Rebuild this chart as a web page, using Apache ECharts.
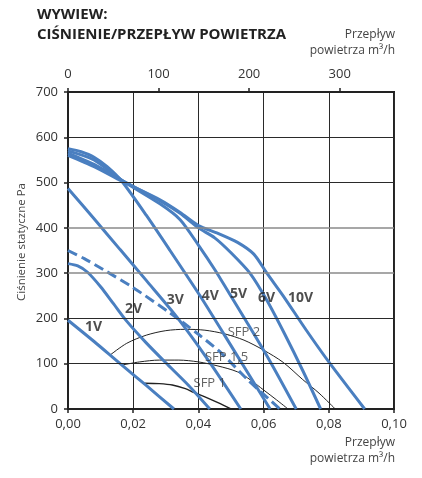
<!DOCTYPE html>
<html><head><meta charset="utf-8">
<script src="https://cdn.jsdelivr.net/npm/echarts@6/dist/echarts.min.js"></script>
<style>html,body{margin:0;padding:0;background:#fff}#c{width:422px;height:478px}</style>
</head><body><div id="c"></div>
<script>
// Flow [m3/s], static pressure [Pa]
const curve1V = [[0,196],[0.008,149],[0.016,100],[0.024,52],[0.0325,0]];
const curve2V = [[0,321],[0.003,316],[0.006,302],[0.010,270],[0.014,232],[0.018,194],[0.024,146],[0.030,102],[0.037,52],[0.0435,0]];
const curveDashed = [[0,350],[0.005,332],[0.0108,308],[0.020,268],[0.0313,212],[0.040,165],[0.0471,123],[0.0552,64],[0.065,0]];
const curve3V = [[0,487],[0.008,420],[0.016,352],[0.024,284],[0.0333,204],[0.043,108],[0.053,0]];
const curve4V = [[0,575],[0.004,568],[0.008,556],[0.012,535],[0.0165,503],[0.024,428],[0.0313,350],[0.0405,250],[0.050,140],[0.062,0]];
const curve5V = [[0,570],[0.008,550],[0.0165,505],[0.0282,453],[0.0344,418],[0.040,362],[0.0451,307],[0.0494,256],[0.055,190],[0.062,105],[0.070,0]];
const curve6V = [[0,565],[0.008,540],[0.0165,505],[0.0282,460],[0.0344,432],[0.040,400],[0.045,378],[0.050,345],[0.0558,300],[0.061,240],[0.0665,165],[0.072,85],[0.0775,0]];
const curve10V = [[0,560],[0.008,535],[0.0165,503],[0.0282,462],[0.0344,434],[0.040,405],[0.046,388],[0.052,368],[0.057,342],[0.061,300],[0.066,250],[0.073,175],[0.0804,100],[0.091,0]];

const sfp2 = [[0.0129,119],[0.018,145],[0.024,163],[0.030,173],[0.036,176],[0.042,174],[0.048,166],[0.054,152],[0.060,130],[0.066,103],[0.072,65],[0.077,35],[0.082,0]];
const sfp15 = [[0.0165,97],[0.022,104],[0.028,108],[0.034,108],[0.040,104],[0.046,95],[0.052,82],[0.056,64],[0.060,42],[0.064,20],[0.0675,0]];
const sfp1 = [[0.0235,57],[0.028,56],[0.032,53],[0.036,45],[0.0385,37],[0.042,27],[0.046,14],[0.050,0]];

const curveLabels = ['1V','2V','3V','4V','5V','6V','10V'];
const curveLabelX = [0.0052,0.0175,0.0303,0.041,0.0497,0.0583,0.0675];
const curveLabelY = [181,220,240,249,254,245,245];
const sfpLabels = ['SFP 2','SFP 1,5','SFP 1'];
const sfpLabelX = [0.049,0.042,0.0385];
const sfpLabelY = [170,114,57];

const topTicks = [0,100,200,300];
const gridDark = [100,200,500,600];
const gridGray = [300,400];

const FONT = '"Open Sans", "Noto Sans", sans-serif';
const BLUE = '#4a7fc0';

function blue(name, data, dashed) {
  return {type:'line', name, data, xAxisIndex:0, yAxisIndex:0, symbol:'none', showSymbol:false,
    smooth:0.25, silent:true, z:4,
    lineStyle:{color:BLUE, width:3, type: dashed ? [10,5] : 'solid', cap:'butt'}};
}
function black(name, data, w) {
  return {type:'line', name, data, xAxisIndex:0, yAxisIndex:0, symbol:'none', showSymbol:false,
    smooth:0.3, silent:true, z:3,
    lineStyle:{color:'#222', width:w}};
}

const chart = echarts.init(document.getElementById('c'), null, {renderer:'canvas'});
chart.setOption({
  animation:false,
  backgroundColor:'#fff',
  grid:{left:68, right:28, top:92, bottom:69, show:true, borderColor:'#222', borderWidth:2, backgroundColor:'transparent'},
  xAxis:[
    {type:'value', position:'bottom', min:0, max:0.1, interval:0.02,
     axisLine:{show:true, onZero:false, lineStyle:{color:'#222', width:2}},
     axisTick:{show:true, length:4, inside:false, lineStyle:{color:'#222', width:1.5}},
     axisLabel:{margin:9, fontSize:13, fontFamily:FONT, color:'#333',
       formatter:v => v.toFixed(2).replace('.', ',')},
     splitLine:{show:true, lineStyle:{color:'#2a2a2a', width:1}}},
    {type:'value', position:'top', min:0, max:360, interval:100,
     axisLine:{show:true, onZero:false, lineStyle:{color:'#222', width:2}},
     axisTick:{show:true, length:4, inside:false, customValues:topTicks, lineStyle:{color:'#222', width:1.5}},
     axisLabel:{margin:11, fontSize:13, fontFamily:FONT, color:'#333', customValues:topTicks},
     splitLine:{show:false}}
  ],
  yAxis:[{type:'value', min:0, max:700, interval:100,
    axisLine:{show:true, onZero:false, lineStyle:{color:'#222', width:2}},
    axisTick:{show:true, length:4, lineStyle:{color:'#222', width:1.5}},
    axisLabel:{margin:10, fontSize:13, fontFamily:FONT, color:'#333'},
    splitLine:{show:false}}],
  graphic:[
    {type:'text', x:37, y:5, style:{text:'WYWIEW:\nCIŚNIENIE/PRZEPŁYW POWIETRZA', font:'bold 15px ' + FONT, fill:'#222', lineHeight:20}},
    {type:'text', x:395, y:27, style:{text:'Przepływ\npowietrza m³/h', align:'right', font:'12px ' + FONT, fill:'#444', lineHeight:16}},
    {type:'text', x:395, y:435, style:{text:'Przepływ\npowietrza m³/h', align:'right', font:'12px ' + FONT, fill:'#444', lineHeight:16}},
    {type:'text', x:22, y:242, rotation:Math.PI/2, style:{text:'Ciśnienie statyczne Pa', align:'center', verticalAlign:'middle', font:'11.5px ' + FONT, fill:'#444'}}
  ],
  series:[
    {type:'line', data:[], symbol:'none', silent:true, z:1,
     markLine:{silent:true, symbol:'none', label:{show:false}, animation:false,
       data: gridDark.map(v => ({yAxis:v, lineStyle:{color:'#2a2a2a', width:1, type:'solid'}}))
         .concat(gridGray.map(v => ({yAxis:v, lineStyle:{color:'#8a8a8a', width:1.5, type:'solid'}})))}},
    black('SFP 2', sfp2, 1),
    black('SFP 1,5', sfp15, 1),
    black('SFP 1', sfp1, 1.4),
    blue('1V', curve1V),
    blue('2V', curve2V),
    blue('max', curveDashed, true),
    blue('3V', curve3V),
    blue('4V', curve4V),
    blue('5V', curve5V),
    blue('6V', curve6V),
    blue('10V', curve10V),
    {type:'scatter', silent:true, symbolSize:0, z:6,
     data: curveLabels.map((t,i) => ({name:t, value:[curveLabelX[i], curveLabelY[i]]})),
     label:{show:true, formatter:'{b}', position:[0,0], align:'left', verticalAlign:'middle',
       fontFamily:FONT, fontWeight:'bold', fontSize:14, color:'#222'}},
    {type:'scatter', silent:true, symbolSize:0, z:6,
     data: sfpLabels.map((t,i) => ({name:t, value:[sfpLabelX[i], sfpLabelY[i]]})),
     label:{show:true, formatter:'{b}', position:[0,0], align:'left', verticalAlign:'middle',
       fontFamily:FONT, fontSize:13, color:'#3c3c3c'}}
  ]
});
</script></body></html>
